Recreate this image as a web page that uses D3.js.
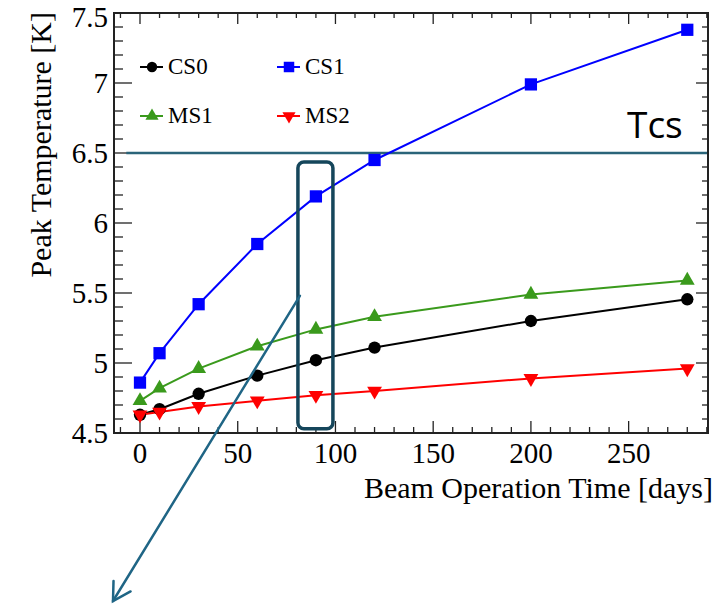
<!DOCTYPE html>
<meta charset="utf-8">
<style>
  body {
    margin: 0;
    background: #fff;
  }
  text {
    font-family: "Liberation Serif", "DejaVu Serif", serif;
    fill: #000;
  }
</style>
<body>
  <script src="https://d3js.org/d3.v7.min.js"></script>
  <script>
    var days = [0, 10, 30, 60, 90, 120, 200, 280];
    var cs0 = [4.63, 4.67, 4.78, 4.91, 5.02, 5.11, 5.30, 5.455];
    var cs1 = [4.86, 5.07, 5.42, 5.85, 6.19, 6.45, 6.99, 7.38];
    var ms1 = [4.73, 4.82, 4.96, 5.12, 5.24, 5.33, 5.49, 5.59];
    var ms2 = [4.63, 4.65, 4.69, 4.73, 4.77, 4.80, 4.89, 4.96];
    var xTicks = [0, 50, 100, 150, 200, 250];
    var yTicks = [4.5, 5, 5.5, 6, 6.5, 7, 7.5];
    var tcs = 6.5;

    var width = 719,
    height = 604;

    var x = d3.scaleLinear()
    .domain([-13.3, 290.6])
    .range([114, 708]);

    var y = d3.scaleLinear()
    .domain([4.5, 7.5])
    .range([433, 13]);

    var series = [
      {name: "CS0", values: cs0, color: "#000", shape: d3.symbolCircle, size: 120, lsize: 85},
      {name: "CS1", values: cs1, color: "#0000ff", shape: d3.symbolSquare, size: 150, lsize: 110},
      {name: "MS1", values: ms1, color: "#3a9a1c", shape: d3.symbolTriangle, size: 95, lsize: 75},
      {name: "MS2", values: ms2, color: "#ff0000", shape: d3.symbolTriangle, size: 95, lsize: 75, flip: true}
    ];

    var svg = d3.select("body").append("svg")
    .attr("width", width)
    .attr("height", height);

    // minor + major ticks, all pointing into the frame
    var minorX = d3.range(-10, 291, 10);
    var minorY = d3.range(4.5, 7.501, 0.1);

    var ticks = svg.append("g").attr("stroke", "#222").attr("stroke-width", 1.3);
    minorX.forEach(function(v) {
      var major = v % 50 == 0;
      ticks.append("line").attr("x1", x(v)).attr("x2", x(v))
      .attr("y1", y.range()[0]).attr("y2", y.range()[0] - (major ? 12 : 6));
      ticks.append("line").attr("x1", x(v)).attr("x2", x(v))
      .attr("y1", y.range()[1]).attr("y2", y.range()[1] + (major ? 11 : 5));
    });
    minorY.forEach(function(v, i) {
      var major = i % 5 == 0;
      ticks.append("line").attr("y1", y(v)).attr("y2", y(v))
      .attr("x1", x.range()[0]).attr("x2", x.range()[0] + (major ? 18 : 9));
      ticks.append("line").attr("y1", y(v)).attr("y2", y(v))
      .attr("x1", x.range()[1]).attr("x2", x.range()[1] - (major ? 12 : 6));
    });

    svg.append("rect")
    .attr("x", x.range()[0])
    .attr("y", y.range()[1])
    .attr("width", x.range()[1] - x.range()[0])
    .attr("height", y.range()[0] - y.range()[1])
    .attr("fill", "none")
    .attr("stroke", "#222")
    .attr("stroke-width", 2);

    svg.append("g").selectAll("text")
    .data(xTicks)
    .join("text")
    .attr("x", d => x(d))
    .attr("y", 463)
    .attr("text-anchor", "middle")
    .style("font-size", "29px")
    .text(d => d);

    // top label sits a bit lower so it is not clipped
    svg.append("g").selectAll("text")
    .data(yTicks)
    .join("text")
    .attr("x", 108)
    .attr("y", d => Math.max(y(d) + 10, 27))
    .attr("text-anchor", "end")
    .style("font-size", "29px")
    .text(d => d);

    svg.append("text")
    .attr("x", 713)
    .attr("y", 498)
    .attr("text-anchor", "end")
    .style("font-size", "30px")
    .text("Beam Operation Time [days]");

    svg.append("text")
    .attr("transform", "translate(51,12) rotate(-90)")
    .attr("text-anchor", "end")
    .style("font-size", "30px")
    .text("Peak Temperature [K]");

    // Tcs threshold
    svg.append("line")
    .attr("x1", x(-7)).attr("x2", x.range()[1] - 1)
    .attr("y1", y(tcs)).attr("y2", y(tcs))
    .attr("stroke", "#2a6479")
    .attr("stroke-width", 2.5);

    svg.append("text")
    .attr("x", 627)
    .attr("y", 138)
    .style("font-family", "'Open Sans', 'Noto Sans', sans-serif")
    .style("font-size", "37px")
    .text("Tcs");

    var line = d3.line()
    .x(function(d, i) { return x(days[i]); })
    .y(function(d) { return y(d); });

    function symbolPath(s, size) {
      return d3.symbol().type(s.shape).size(size)();
    }

    series.forEach(function(s) {
      svg.append("path")
      .attr("d", line(s.values))
      .attr("fill", "none")
      .attr("stroke", s.color)
      .attr("stroke-width", 2);
    });

    series.forEach(function(s) {
      svg.append("g").selectAll("path")
      .data(s.values)
      .join("path")
      .attr("d", symbolPath(s, s.size))
      .attr("transform", (d, i) => "translate(" + x(days[i]) + "," + y(d) + ")" + (s.flip ? " rotate(180)" : ""))
      .attr("fill", s.color);
    });

    // legend
    var legendPos = [[140, 67], [277, 67], [140, 116], [277, 116]];
    series.forEach(function(s, i) {
      var p = legendPos[i];
      var g = svg.append("g").attr("transform", "translate(" + p[0] + "," + p[1] + ")");
      g.append("line").attr("x1", 0).attr("x2", 23)
      .attr("stroke", s.color).attr("stroke-width", 2);
      g.append("path")
      .attr("d", symbolPath(s, s.lsize))
      .attr("transform", "translate(12,0)" + (s.flip ? " rotate(180)" : ""))
      .attr("fill", s.color);
      g.append("text")
      .attr("x", 28)
      .attr("y", 7)
      .style("font-size", "23px")
      .text(s.name);
    });

    // highlight box around the 90 day points
    var box = {x0: 80.8, x1: 98.7, top: 6.436, bottom: 4.53};
    svg.append("rect")
    .attr("x", x(box.x0))
    .attr("y", y(box.top))
    .attr("width", x(box.x1) - x(box.x0))
    .attr("height", y(box.bottom) - y(box.top))
    .attr("rx", 6)
    .attr("fill", "none")
    .attr("stroke", "#15465b")
    .attr("stroke-width", 3.5);

    // arrow pointing out of the box
    var from = [x(81.8), y(5.48)],
    to = [113, 601];
    var ang = Math.atan2(from[1] - to[1], from[0] - to[0]);
    var headLen = 20, spread = Math.PI / 6;
    var arrow = svg.append("g")
    .attr("stroke", "#1f6585")
    .attr("stroke-width", 2.5)
    .attr("fill", "none")
    .attr("stroke-linecap", "round");
    arrow.append("line")
    .attr("x1", from[0]).attr("y1", from[1])
    .attr("x2", to[0]).attr("y2", to[1]);
    arrow.append("path")
    .attr("d", "M" + (to[0] + headLen * Math.cos(ang - spread)) + "," + (to[1] + headLen * Math.sin(ang - spread)) +
      "L" + to[0] + "," + to[1] +
      "L" + (to[0] + headLen * Math.cos(ang + spread)) + "," + (to[1] + headLen * Math.sin(ang + spread)));
  </script>
</body>
